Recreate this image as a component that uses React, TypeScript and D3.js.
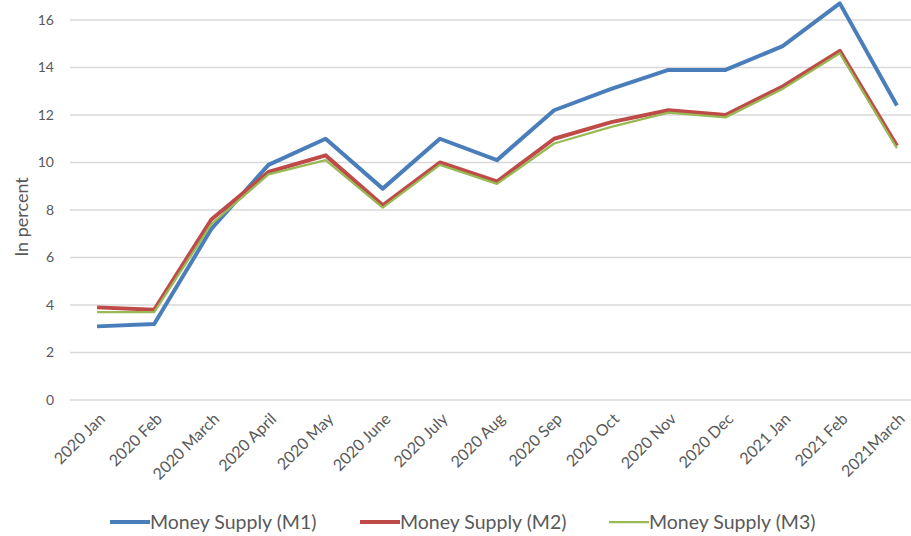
import { useEffect, useRef } from "react"
import * as d3 from "d3"

const months = [
  "2020 Jan", "2020 Feb", "2020 March", "2020 April", "2020 May", "2020 June",
  "2020 July", "2020 Aug", "2020 Sep", "2020 Oct", "2020 Nov", "2020 Dec",
  "2021 Jan", "2021 Feb", "2021March",
]
const m1 = [3.1, 3.2, 7.2, 9.9, 11.0, 8.9, 11.0, 10.1, 12.2, 13.1, 13.9, 13.9, 14.9, 16.7, 12.4]
const m2 = [3.9, 3.8, 7.6, 9.6, 10.3, 8.2, 10.0, 9.2, 11.0, 11.7, 12.2, 12.0, 13.2, 14.7, 10.7]
const m3 = [3.7, 3.7, 7.4, 9.5, 10.1, 8.1, 9.9, 9.1, 10.8, 11.5, 12.1, 11.9, 13.1, 14.6, 10.6]
const yTicks = [0, 2, 4, 6, 8, 10, 12, 14, 16]

const seriesList = [
  { name: "Money Supply (M1)", values: m1, color: "#4a7ebb", width: 4 },
  { name: "Money Supply (M2)", values: m2, color: "#be4b48", width: 4 },
  { name: "Money Supply (M3)", values: m3, color: "#98b954", width: 2.25 },
]

const FONT = "Lato, 'Open Sans', sans-serif"

export default function App() {
  const svgRef = useRef(null)

  useEffect(() => {
    const width = 911
    const height = 536
    const svg = d3.select(svgRef.current)
    svg.selectAll("*").remove()
    svg.attr("width", width).attr("height", height)

    const x = d3.scaleBand().domain(months).range([68.5, 925.5])
    const cx = (m: string) => (x(m) as number) + x.bandwidth() / 2
    const y = d3.scaleLinear().domain([0, 16]).range([400, 20])

    // gridlines
    svg
      .append("g")
      .selectAll("line")
      .data(yTicks)
      .enter()
      .append("line")
      .attr("x1", 70)
      .attr("x2", 911)
      .attr("y1", (d) => y(d))
      .attr("y2", (d) => y(d))
      .attr("stroke", "#d9d9d9")
      .attr("stroke-width", 1.3)

    // y labels
    svg
      .append("g")
      .selectAll("text")
      .data(yTicks)
      .enter()
      .append("text")
      .attr("x", 54)
      .attr("y", (d) => y(d))
      .attr("dy", "0.35em")
      .attr("text-anchor", "end")
      .attr("font-family", FONT)
      .attr("font-size", 14)
      .attr("fill", "#595959")
      .text((d) => d)

    svg
      .append("text")
      .attr("transform", `translate(22,217) rotate(-90)`)
      .attr("text-anchor", "middle")
      .attr("dy", "0.35em")
      .attr("font-family", FONT)
      .attr("font-size", 18)
      .attr("fill", "#595959")
      .text("In percent")

    // x labels
    svg
      .append("g")
      .selectAll("text")
      .data(months)
      .enter()
      .append("text")
      .attr("transform", (d) => `translate(${cx(d) + 5},${416}) rotate(-45)`)
      .attr("text-anchor", "end")
      .attr("dy", "0.35em")
      .attr("font-family", FONT)
      .attr("font-size", 16)
      .attr("fill", "#595959")
      .text((d) => d)

    const line = d3
      .line<number>()
      .x((_, i) => cx(months[i]))
      .y((d) => y(d))

    seriesList.forEach((s) => {
      svg
        .append("path")
        .datum(s.values)
        .attr("d", line)
        .attr("fill", "none")
        .attr("stroke", s.color)
        .attr("stroke-width", s.width)
        .attr("stroke-linejoin", "round")
    })

    // legend
    const legendX = [110, 360, 609]
    const legend = svg
      .append("g")
      .selectAll("g")
      .data(seriesList)
      .enter()
      .append("g")
      .attr("transform", (_, i) => `translate(${legendX[i]},522)`)
    legend
      .append("line")
      .attr("x1", 0)
      .attr("x2", 40)
      .attr("stroke", (d) => d.color)
      .attr("stroke-width", (d) => d.width)
    legend
      .append("text")
      .attr("x", 40)
      .attr("dy", "0.35em")
      .attr("font-family", FONT)
      .attr("font-size", 19.5)
      .attr("fill", "#595959")
      .text((d) => d.name)
  }, [])

  return (
    <div style={{ position: "absolute", left: 0, top: 0 }}>
      <svg ref={svgRef}></svg>
    </div>
  )
}
